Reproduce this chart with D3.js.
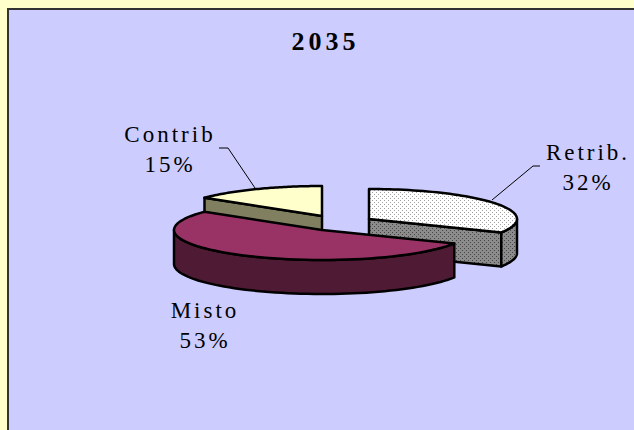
<!DOCTYPE html>
<html>
<head>
<meta charset="utf-8">
<script src="https://cdn.jsdelivr.net/npm/d3@7"></script>
<style>
  html, body { margin: 0; padding: 0; background: #ffffcc; overflow: hidden; }
  text { font-family: "Liberation Serif", serif; fill: #000; }
  .lab { font-size: 23px; letter-spacing: 3px; text-anchor: middle; }
  .title { font-size: 26px; font-weight: bold; letter-spacing: 4px; text-anchor: middle; }
</style>
</head>
<body>
<svg id="chart" width="634" height="430"></svg>
<script>
/* data */
const title = '2035'
const categories = ['Retrib.', 'Misto', 'Contrib']
const shares = [32.4, 53.0, 14.6]

/* pie geometry: flattened ellipse + wall depth */
const rx = 148
const ry = 30
const depth = 34
const centres = [[369, 219], [322, 230], [322, 216]]

const topFill = ['url(#dotsLight)', '#993366', '#ffffcc']
const wallFill = ['url(#dotsDark)', '#4f1a33', '#808060']

/* label position + leader line for each slice */
const labelPos = [[588, 160], [205, 318], [170, 142]]
const leaders = [
  [[540, 166], [533, 166], [492, 200]],
  null,
  [[219, 148], [228, 148], [255, 188]]
]

const svg = d3.select('#chart')

/* dotted fills of the Retrib. slice */
const defs = svg.append('defs')
function dotPattern(id, bg, dot) {
  const p = defs.append('pattern').attr('id', id)
    .attr('width', 4).attr('height', 4)
    .attr('patternUnits', 'userSpaceOnUse')
  p.append('rect').attr('width', 4).attr('height', 4).attr('fill', bg)
  p.append('rect').attr('width', 1).attr('height', 1).attr('fill', dot)
  p.append('rect').attr('x', 2).attr('y', 2).attr('width', 1).attr('height', 1).attr('fill', dot)
}
dotPattern('dotsLight', '#ffffff', '#a0a0a0')
dotPattern('dotsDark', '#8c8c8c', '#454545')

/* background panel, runs off the right and bottom edge */
svg.append('rect')
  .attr('x', 8).attr('y', 9)
  .attr('width', 640).attr('height', 440)
  .attr('fill', '#ccccff')
  .attr('stroke', '#333333')
  .attr('stroke-width', 2)

svg.append('text').attr('class', 'title')
  .attr('x', 325.5).attr('y', 50)
  .text(title)

const arcs = d3.pie().sort(null).value((d) => d)(shares)
const line = d3.line()

/* fn: point on the rim of a slice, angle measured clockwise from 12 o'clock */
function rimPoint(c, a, dy = 0) {
  return [c[0] + rx * Math.sin(a), c[1] - ry * Math.cos(a) + dy]
}

/* fn: points along the rim between two angles */
function rim(c, a0, a1, dy = 0) {
  return d3.range(0, 61).map((i) => rimPoint(c, a0 + ((a1 - a0) * i) / 60, dy))
}

/* fn: draw closed outlined shape */
function shape(pts, fill) {
  svg.append('path')
    .attr('d', line(pts) + 'Z')
    .attr('fill', fill)
    .attr('stroke', '#000')
    .attr('stroke-width', 2.5)
    .attr('stroke-linejoin', 'round')
}

/* back to front: Contrib, Retrib., Misto */
;[2, 0, 1].forEach(function (i) {
  const a = arcs[i]
  const c = centres[i]
  const below = [c[0], c[1] + depth]

  /* cut wall seen from the front */
  if (i === 0) {
    const e = rimPoint(c, a.endAngle)
    shape([c, e, [e[0], e[1] + depth], below], wallFill[i])
  }
  if (i === 2) {
    const s = rimPoint(c, a.startAngle)
    shape([c, s, [s[0], s[1] + depth], below], wallFill[i])
  }

  /* outer wall: only the part of the rim below the centre line shows */
  const from = Math.max(a.startAngle, Math.PI / 2)
  const to = Math.min(a.endAngle, (3 * Math.PI) / 2)
  if (from < to) {
    shape(rim(c, from, to).concat(rim(c, to, from, depth)), wallFill[i])
  }

  /* top face */
  shape([c].concat(rim(c, a.startAngle, a.endAngle)), topFill[i])
})

/* leader lines */
leaders.filter((d) => d).forEach(function (pts) {
  svg.append('path')
    .attr('d', line(pts))
    .attr('fill', 'none')
    .attr('stroke', '#000')
    .attr('stroke-width', 1)
})

/* data labels: name on the first line, rounded share under it */
categories.forEach(function (name, i) {
  const t = svg.append('text').attr('class', 'lab')
    .attr('transform', `translate(${labelPos[i][0]}, ${labelPos[i][1]})`)
  t.append('tspan').attr('x', 0).attr('y', 0).text(name)
  t.append('tspan').attr('x', 0).attr('y', 30).text(Math.round(shares[i]) + '%')
})
</script>
</body>
</html>
